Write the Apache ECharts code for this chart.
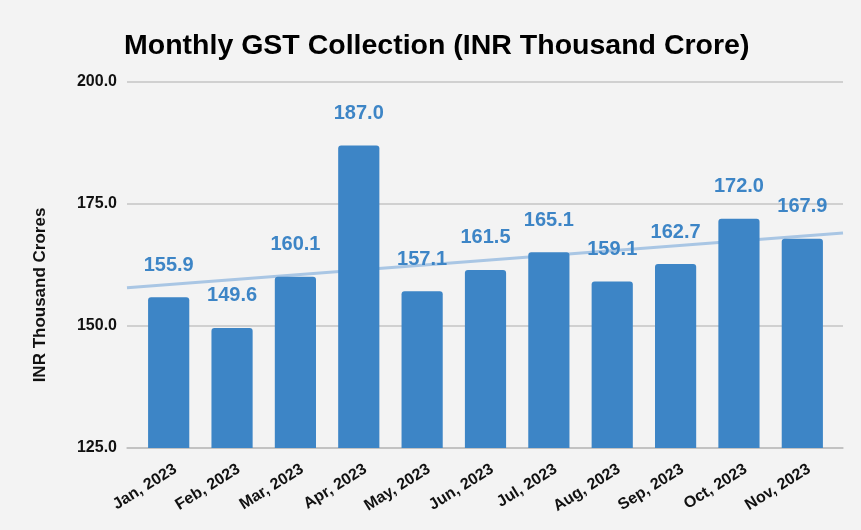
<!DOCTYPE html>
<html>
<head>
<meta charset="utf-8">
<script src="https://cdn.jsdelivr.net/npm/echarts@6/dist/echarts.min.js"></script>
<style>
  html, body { margin: 0; padding: 0; background: #f3f3f3; }
  #chart { width: 861px; height: 530px; }
</style>
</head>
<body>
<div id="chart"></div>
<script>
// Monthly GST collections, INR thousand crore
const months = ['Jan, 2023', 'Feb, 2023', 'Mar, 2023', 'Apr, 2023', 'May, 2023', 'Jun, 2023',
                'Jul, 2023', 'Aug, 2023', 'Sep, 2023', 'Oct, 2023', 'Nov, 2023'];
const collections = [155.9, 149.6, 160.1, 187.0, 157.1, 161.5, 165.1, 159.1, 162.7, 172.0, 167.9];
const yTicks = [125, 150, 175, 200];

// Plot frame (gridlines) and the inset band area that holds the bars
const frame = { left: 127, right: 18, top: 82, bottom: 82 };
const inset = { left: 10, right: 9 };
const chartWidth = 861;
const band = (chartWidth - frame.left - frame.right - inset.left - inset.right) / months.length;

// Least-squares linear trend over the month index, extended to both gridline ends
function linearTrend(values, x0, x1) {
  const n = values.length;
  const mx = (n - 1) / 2;
  const my = values.reduce((a, b) => a + b, 0) / n;
  let sxy = 0, sxx = 0;
  values.forEach((v, i) => { sxy += (i - mx) * (v - my); sxx += (i - mx) * (i - mx); });
  const slope = sxy / sxx;
  const at = x => my + slope * (x - mx);
  return [[x0, at(x0)], [x1, at(x1)]];
}
const xStart = -0.5 - inset.left / band;
const xEnd = months.length - 0.5 + inset.right / band;
const trend = linearTrend(collections, xStart, xEnd);

const blue = '#3d85c6';
const font = '"Liberation Sans", Arial, sans-serif';

const chart = echarts.init(document.getElementById('chart'), null, { renderer: 'canvas' });
chart.setOption({
  backgroundColor: '#f3f3f3',
  animation: false,
  title: {
    text: 'Monthly GST Collection (INR Thousand Crore)',
    left: 119,
    top: 27,
    textStyle: { fontFamily: font, fontSize: 28.5, fontWeight: 'bold', color: '#000' }
  },
  graphic: [{
    type: 'text',
    x: 40, y: 295,
    rotation: Math.PI / 2,
    style: {
      text: 'INR Thousand Crores',
      fontFamily: font, fontSize: 17, fontWeight: 'bold', fill: '#111',
      align: 'center', verticalAlign: 'middle'
    }
  }],
  grid: [
    { left: frame.left, right: frame.right, top: frame.top, bottom: frame.bottom },
    { left: frame.left + inset.left, right: frame.right + inset.right, top: frame.top, bottom: frame.bottom }
  ],
  xAxis: [{
    // full-width axis: baseline and trend line
    type: 'value',
    gridIndex: 0,
    min: xStart, max: xEnd,
    axisLine: { show: true, onZero: false, lineStyle: { color: '#bdbdbd', width: 1.5 } },
    axisTick: { show: false },
    axisLabel: { show: false },
    splitLine: { show: false }
  }, {
    type: 'category',
    gridIndex: 1,
    data: months,
    axisTick: { show: false },
    axisLine: { show: false },
    axisLabel: {
      rotate: 32, margin: 24, interval: 0,
      padding: [0, -8, 0, 0],
      fontFamily: font, fontSize: 16, fontWeight: 'bold', color: '#111'
    }
  }],
  yAxis: [{
    type: 'value',
    gridIndex: 0,
    min: yTicks[0], max: yTicks[yTicks.length - 1], interval: 25,
    axisLine: { show: false },
    axisTick: { show: false },
    splitLine: { lineStyle: { color: '#c4c4c4', width: 1.5 } },
    axisLabel: {
      margin: 10,
      formatter: v => v.toFixed(1),
      fontFamily: font, fontSize: 16, fontWeight: 'bold', color: '#111'
    }
  }, {
    type: 'value',
    gridIndex: 1,
    min: yTicks[0], max: yTicks[yTicks.length - 1], interval: 25,
    show: false,
    splitLine: { show: false }
  }],
  series: [{
    type: 'line',
    xAxisIndex: 0, yAxisIndex: 0,
    data: trend,
    symbol: 'none',
    lineStyle: { color: '#a9c6e4', width: 3 },
    silent: true,
    z: 1
  }, {
    type: 'bar',
    xAxisIndex: 1, yAxisIndex: 1,
    data: collections,
    barWidth: '65%',
    itemStyle: { color: blue, borderRadius: [3, 3, 0, 0] },
    label: {
      show: true, position: 'top', distance: 22,
      formatter: p => p.value.toFixed(1),
      fontFamily: font, fontSize: 20, fontWeight: 'bold', color: blue
    },
    z: 2
  }]
});
</script>
</body>
</html>
